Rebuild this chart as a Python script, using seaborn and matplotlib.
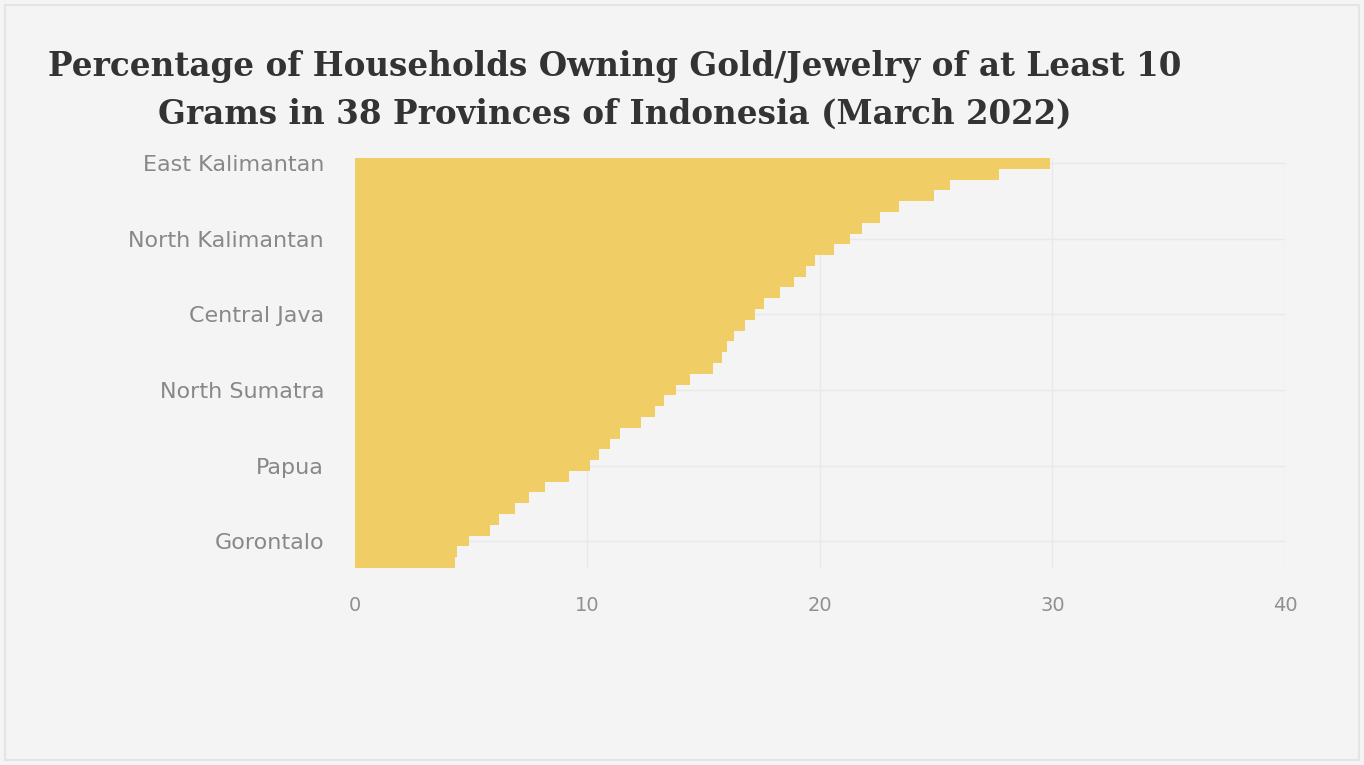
import pandas as pd
import matplotlib
matplotlib.use('Agg')
import matplotlib.pyplot as plt
import seaborn as sns
from matplotlib.patches import Rectangle

# data (sorted high to low), 38 provinces
provinces = [
    'East Kalimantan', 'Bangka Belitung Islands', 'Riau Islands', 'Riau', 'Jambi',
    'West Kalimantan', 'Central Kalimantan', 'North Kalimantan', 'South Kalimantan',
    'West Sumatra', 'Bengkulu', 'South Sumatra', 'Aceh', 'DKI Jakarta',
    'Central Java', 'DI Yogyakarta', 'East Java', 'West Java', 'Banten', 'Lampung',
    'Bali', 'North Sumatra', 'South Sulawesi', 'West Sulawesi', 'Southeast Sulawesi',
    'Central Sulawesi', 'West Nusa Tenggara', 'North Sulawesi', 'Papua',
    'South Papua', 'Central Papua', 'Highland Papua', 'West Papua', 'Southwest Papua',
    'Maluku', 'Gorontalo', 'North Maluku', 'East Nusa Tenggara',
]
pct = [
    29.9, 27.7, 25.6, 24.9, 23.4, 22.6, 21.8, 21.3, 20.6, 19.8,
    19.4, 18.9, 18.3, 17.6, 17.2, 16.8, 16.3, 16.0, 15.8, 15.4,
    14.4, 13.8, 13.3, 12.9, 12.3, 11.4, 11.0, 10.5, 10.1, 9.2,
    8.2, 7.5, 6.9, 6.2, 5.8, 4.9, 4.4, 4.3,
]
x_ticks = [0, 10, 20, 30, 40]
label_step = 7

df = pd.DataFrame({'Province': provinces, 'Percent': pct})

bg = '#f4f4f4'
sns.set_style('white')

fig = plt.figure(figsize=(13.64, 7.65), dpi=100)
fig.patch.set_facecolor(bg)
fig.patches.append(Rectangle((0.004, 0.006), 0.992, 0.988, transform=fig.transFigure,
                             fill=False, edgecolor='#e4e4e4', linewidth=1.5))

ax = fig.add_axes([0.260, 0.2575, 0.682, 0.536])
ax.set_facecolor(bg)

sns.barplot(data=df, x='Percent', y='Province', orient='h', width=1.0,
            color='#f0cd65', saturation=1, linewidth=0, ax=ax)

ax.set_xlim(0, 40)
ax.set_xticks(x_ticks)
ax.set_xticklabels([str(t) for t in x_ticks], fontsize=14, color='#909090')
ax.set_yticks(range(0, len(provinces), label_step))
ax.set_yticklabels(provinces[::label_step], fontsize=16, color='#888888')
ax.tick_params(axis='both', length=0)
ax.tick_params(axis='x', pad=20)
ax.tick_params(axis='y', pad=22)
ax.set_xlabel('')
ax.set_ylabel('')
ax.grid(True, color='#e9e9e9', linewidth=1)
ax.set_axisbelow(True)
for s in ax.spines.values():
    s.set_visible(False)

fig.text(0.451, 0.882,
         'Percentage of Households Owning Gold/Jewelry of at Least 10\n'
         'Grams in 38 Provinces of Indonesia (March 2022)',
         ha='center', va='center', fontsize=23.5, fontweight='bold',
         family='DejaVu Serif', color='#333333', linespacing=1.55)

fig.savefig('out.png', dpi=100, facecolor=bg)
